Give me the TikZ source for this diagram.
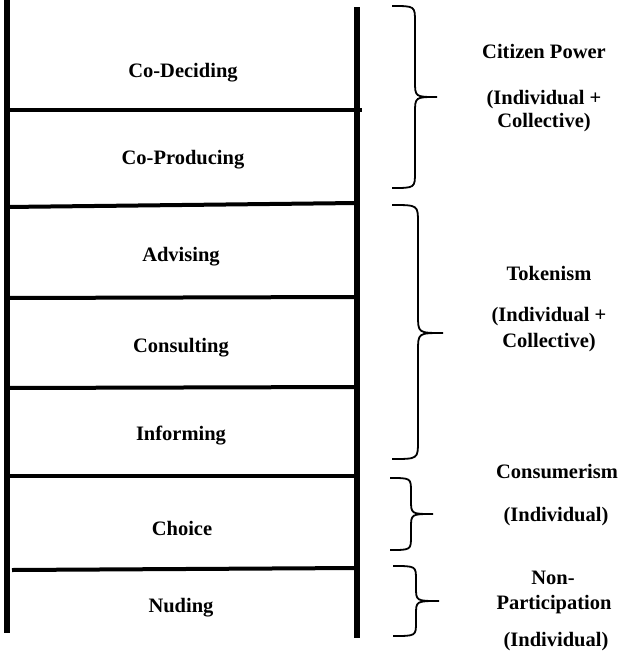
\documentclass[tikz,border=0pt]{standalone}
\usepackage{fontspec}
\setmainfont{Liberation Serif}
\usepackage{tikz}

\begin{document}
\begin{tikzpicture}[x=1pt,y=-1pt,
  rail/.style={line width=6pt},
  rung/.style={line width=4pt},
  curly/.style={line width=1.8pt},
  lbl/.style={font=\fontsize{20.5}{24}\selectfont\bfseries,anchor=base,inner sep=0pt}]
  \useasboundingbox (0,0) rectangle (620,653);
  \draw[rail] (6.5,0) -- (6.5,633);
  \draw[rail] (357,7) -- (357,638);
  \draw[rung] (6.5,110) -- (362,110);
  \draw[rung] (6.5,207) -- (357,203);
  \draw[rung] (6.5,298) -- (357,297);
  \draw[rung] (6.5,388) -- (357,387);
  \draw[rung] (6.5,476) -- (357,476);
  \draw[rung] (12,570) -- (357,568);

  \node[lbl] (codeciding) at (183,77) {Co-Deciding};
  \node[lbl] (coproducing) at (183,164) {Co-Producing};
  \node[lbl] (advising) at (181,261) {Advising};
  \node[lbl] (consulting) at (181,352) {Consulting};
  \node[lbl] (informing) at (181,440) {Informing};
  \node[lbl] (choice) at (182,535) {Choice};
  \node[lbl] (nuding) at (181,612) {Nuding};

  \foreach \xa/\xb/\xc/\yt/\ym/\yb/\c in {392/415/437/6/97/188/16,
      392/418/443/205/333/459/18, 390/411/433/478/514/550/14,
      393/416/439/566/601/636/14}
    \draw[curly] (\xa,\yt) .. controls (\xb,\yt) .. (\xb,\yt+\c) -- (\xb,\ym-\c)
      .. controls (\xb,\ym) .. (\xc,\ym) .. controls (\xb,\ym) .. (\xb,\ym+\c)
      -- (\xb,\yb-\c) .. controls (\xb,\yb) .. (\xa,\yb);

  \node[lbl] (citizen) at (544,58) {Citizen Power};
  \node[lbl] (citizenA) at (544,104) {(Individual +};
  \node[lbl] (citizenB) at (544,127) {Collective)};
  \node[lbl] (tokenism) at (549,280) {Tokenism};
  \node[lbl] (tokenismA) at (549,321) {(Individual +};
  \node[lbl] (tokenismB) at (549,347) {Collective)};
  \node[lbl] (consumerism) at (557,478) {Consumerism};
  \node[lbl] (consumerismA) at (556,521) {(Individual)};
  \node[lbl] (nonpart) at (553,584) {Non-};
  \node[lbl] (nonpartB) at (554,609) {Participation};
  \node[lbl] (nonpartA) at (556,646) {(Individual)};
\end{tikzpicture}
\end{document}
